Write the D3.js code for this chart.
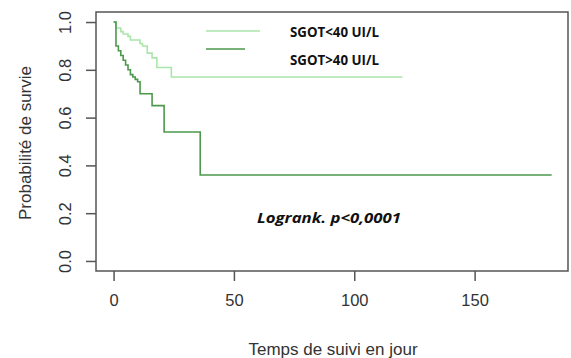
<!DOCTYPE html>
<html>
<head>
<meta charset="utf-8">
<script src="https://cdn.jsdelivr.net/npm/d3@7"></script>
<style>
  body { margin: 0; background: #fff; }
  text { font-family: "Liberation Sans", Arial, sans-serif; }
</style>
</head>
<body>
<svg id="km"></svg>
<script>
// survival curves (Kaplan-Meier)
var lowTimes  = [0, 1, 3, 4, 6, 7, 11, 12, 14, 16, 18, 24, 120];
var lowSurv   = [1.0, 0.975, 0.96, 0.95, 0.94, 0.925, 0.91, 0.90, 0.87, 0.85, 0.81, 0.77, 0.77];
var highTimes = [0, 1, 2, 3, 4, 5, 6, 7, 8, 9, 10, 11, 16, 21, 36, 182];
var highSurv  = [1.0, 0.90, 0.88, 0.86, 0.84, 0.82, 0.80, 0.78, 0.77, 0.76, 0.75, 0.70, 0.65, 0.54, 0.36, 0.36];
var seriesNames = ["SGOT<40 UI/L", "SGOT>40 UI/L"];
var xTicks = [0, 50, 100, 150];
var yTicks = [0, 0.2, 0.4, 0.6, 0.8, 1.0];

const W = 571, H = 358;
var svg = d3.select("#km").attr("width", W).attr("height", H);

var x = d3.scaleLinear().domain([-7.3, 188.8]).range([96, 568]);
var y = d3.scaleLinear().domain([-0.042, 1.042]).range([271, 12]);

// box
svg.append("rect")
  .attr("x", x.range()[0]).attr("y", y.range()[1])
  .attr("width", x.range()[1] - x.range()[0])
  .attr("height", y.range()[0] - y.range()[1])
  .attr("fill", "none").attr("stroke", "#555").attr("stroke-width", 1.5);

// x axis
var xa = svg.append("g")
  .attr("transform", "translate(0," + y.range()[0] + ")")
  .call(d3.axisBottom(x).tickValues(xTicks).tickSize(10).tickPadding(13).tickFormat(d3.format("d")));
xa.select(".domain").remove();
xa.selectAll("line").attr("stroke", "#555").attr("stroke-width", 1.5);
xa.selectAll("text").attr("fill", "#333").style("font-size", "16.5px");

// y axis, labels rotated like R
var ya = svg.append("g")
  .attr("transform", "translate(" + x.range()[0] + ",0)")
  .call(d3.axisLeft(y).tickValues(yTicks).tickSize(10).tickFormat(d3.format(".1f")));
ya.select(".domain").remove();
ya.selectAll("line").attr("stroke", "#555").attr("stroke-width", 1.5);
ya.selectAll("text")
  .attr("fill", "#333").style("font-size", "16.5px")
  .attr("text-anchor", "middle")
  .attr("x", 0).attr("dy", 0)
  .attr("transform", "translate(-31,0) rotate(-90)")
  .attr("y", 0)
  .attr("dominant-baseline", "central");

// titles
svg.append("text").attr("x", 333).attr("y", 355)
  .attr("text-anchor", "middle").attr("fill", "#333").style("font-size", "17px")
  .text("Temps de suivi en jour");
svg.append("text")
  .attr("transform", "translate(31,143) rotate(-90)")
  .attr("text-anchor", "middle").attr("fill", "#333").style("font-size", "17px")
  .text("Probabilité de survie");

// curves
var line = d3.line()
  .x(function(d) { return x(d[0]); })
  .y(function(d) { return y(d[1]); })
  .curve(d3.curveStepAfter);

var colors = ["#a9e6a9", "#4c994c"];
svg.append("path")
  .attr("d", line(d3.zip(lowTimes, lowSurv)))
  .attr("fill", "none").attr("stroke", colors[0]).attr("stroke-width", 1.6);
svg.append("path")
  .attr("d", line(d3.zip(highTimes, highSurv)))
  .attr("fill", "none").attr("stroke", colors[1]).attr("stroke-width", 1.6);

// legend
var leg = svg.append("g");
leg.append("line").attr("x1", 206).attr("x2", 260).attr("y1", 31).attr("y2", 31)
  .attr("stroke", colors[0]).attr("stroke-width", 1.6);
leg.append("line").attr("x1", 206).attr("x2", 245).attr("y1", 49).attr("y2", 49)
  .attr("stroke", colors[1]).attr("stroke-width", 1.6);
leg.selectAll("text.lab")
  .data(seriesNames)
  .enter().append("text")
  .attr("class", "lab")
  .attr("x", 290)
  .attr("y", function(d, i) { return i == 0 ? 37 : 65; })
  .attr("fill", "#111")
  .attr("textLength", 89).attr("lengthAdjust", "spacingAndGlyphs")
  .style("font-family", "'Open Sans', sans-serif")
  .style("font-weight", "bold").style("font-size", "13.5px")
  .text(function(d) { return d; });

svg.append("text").attr("x", 257).attr("y", 223)
  .attr("fill", "#111")
  .attr("textLength", 144).attr("lengthAdjust", "spacingAndGlyphs")
  .style("font-family", "'Open Sans', sans-serif")
  .style("font-weight", "bold").style("font-style", "italic").style("font-size", "15px")
  .text("Logrank. p<0,0001");
</script>
</body>
</html>
